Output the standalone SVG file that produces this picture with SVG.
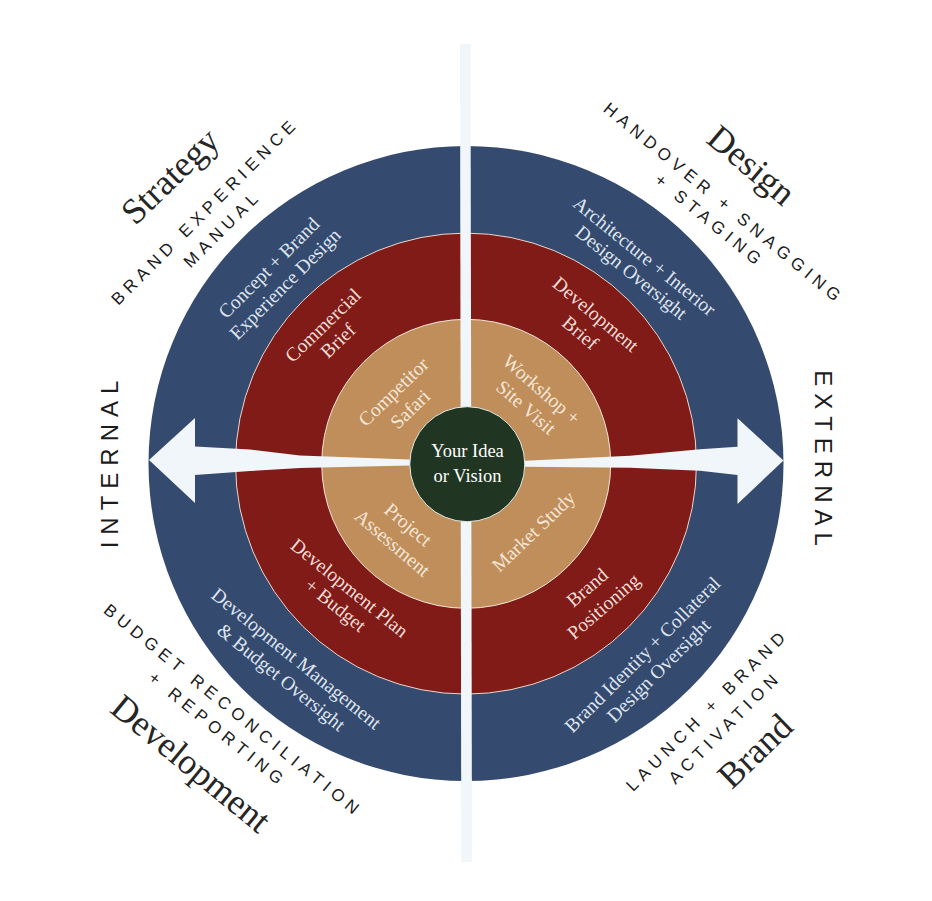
<svg xmlns="http://www.w3.org/2000/svg" width="932" height="901" viewBox="0 0 932 901">
<style>
.bg{fill:#ffffff}
.blue{fill:#354a6f}
.red{fill:#801b18;stroke:#ead8cf;stroke-width:1}
.tan{fill:#c08e5b;stroke:#f3e6da;stroke-width:1}
.core{fill:#213622;stroke:#e6ece6;stroke-width:1}
.conn{fill:#f1f6fb}
text{dominant-baseline:central;text-anchor:middle}
.serif{font-family:"Liberation Serif","DejaVu Serif",serif}
.sans{font-family:"Liberation Sans",Arial,sans-serif}
.big{font-size:36px;fill:#262626}
.caps{font-size:17px;letter-spacing:5.2px;fill:#1c1c1c}
.side{font-size:24px;letter-spacing:7px;fill:#1c1c1c}
.ring{font-size:19.5px}
.onblue{fill:#dfe5ef}
.onred{fill:#f2ddd6}
.ontan{fill:#f5e7d7}
.center{font-size:18.5px;fill:#ffffff}
</style>
<rect class="bg" x="0" y="0" width="932" height="901"/>

<g id="ring-outer"><circle class="blue" cx="466" cy="463.5" r="317.5"/></g>
<g id="ring-middle"><circle class="red" cx="466" cy="463.6" r="230.5"/></g>
<g id="ring-inner"><circle class="tan" cx="466.2" cy="463.8" r="144.5"/></g>

<g id="connectors">
  <polygon class="conn" points="460,44 470.5,44 472,862 461.3,862"/>
  <polygon class="conn" points="149,460 195,418 195,446.5 250,449.5 300,455.5 409,459.5 466,461.5 466,463.5 409,465.5 300,468 250,471 195,475 195,503"/>
  <polygon class="conn" points="783.5,460.5 737.5,418.3 737.5,446.7 700,449.3 630,455.7 525,460.7 466,461.5 466,463.5 525,466.7 630,467.7 700,470.7 737.5,475 737.5,504"/>
</g>

<g id="core">
  <circle class="core" cx="467.3" cy="464.2" r="57.5"/>
  <text class="serif center" x="467.5" y="451">Your Idea</text>
  <text class="serif center" x="467.5" y="476">or Vision</text>
</g>

<g id="strategy">
  <text class="serif big" transform="translate(170,176) rotate(-44)">Strategy</text>
  <g transform="translate(214,220) rotate(-45)">
    <text class="sans caps" y="-12.4">BRAND EXPERIENCE</text>
    <text class="sans caps" y="12.4">MANUAL</text>
  </g>
  <g transform="translate(277,276) rotate(-45)">
    <text class="serif ring onblue" y="-11.5">Concept + Brand</text>
    <text class="serif ring onblue" y="11.5">Experience Design</text>
  </g>
  <g transform="translate(330.5,333) rotate(-44)">
    <text class="serif ring onred" y="-10.8">Commercial</text>
    <text class="serif ring onred" y="10.8">Brief</text>
  </g>
  <g transform="translate(401.8,400.5) rotate(-44)">
    <text class="serif ring ontan" y="-12">Competitor</text>
    <text class="serif ring ontan" y="12">Safari</text>
  </g>
</g>

<g id="design">
  <text class="serif big" transform="translate(751.5,165) rotate(40)">Design</text>
  <g transform="translate(716.8,212.3) rotate(39.5)">
    <text class="sans caps" y="-11.2">HANDOVER + SNAGGING</text>
    <text class="sans caps" y="11.2">+ STAGING</text>
  </g>
  <g transform="translate(638,264.3) rotate(39)">
    <text class="serif ring onblue" y="-10.5">Architecture + Interior</text>
    <text class="serif ring onblue" y="10.5">Design Oversight</text>
  </g>
  <g transform="translate(588,323.5) rotate(40)">
    <text class="serif ring onred" y="-12">Development</text>
    <text class="serif ring onred" y="12">Brief</text>
  </g>
  <g transform="translate(533.8,398.5) rotate(41)">
    <text class="serif ring ontan" y="-11.9">Workshop +</text>
    <text class="serif ring ontan" y="11.9">Site Visit</text>
  </g>
</g>

<g id="development">
  <text class="serif big" transform="translate(191,763.5) rotate(39.4)">Development</text>
  <g transform="translate(225.5,720.3) rotate(39)">
    <text class="sans caps" y="-12.3">BUDGET RECONCILIATION</text>
    <text class="sans caps" y="12.3">+ REPORTING</text>
  </g>
  <g transform="translate(288.8,668) rotate(39)">
    <text class="serif ring onblue" y="-12">Development Management</text>
    <text class="serif ring onblue" y="12">&amp; Budget Oversight</text>
  </g>
  <g transform="translate(342.5,596.5) rotate(39)">
    <text class="serif ring onred" y="-11.1">Development Plan</text>
    <text class="serif ring onred" y="11.1">+ Budget</text>
  </g>
  <g transform="translate(400.3,533.8) rotate(40.6)">
    <text class="serif ring ontan" y="-12">Project</text>
    <text class="serif ring ontan" y="12">Assessment</text>
  </g>
</g>

<g id="brand">
  <text class="serif big" transform="translate(755,751) rotate(-44)">Brand</text>
  <g transform="translate(716.3,718.8) rotate(-45)">
    <text class="sans caps" y="-12.4">LAUNCH + BRAND</text>
    <text class="sans caps" y="12.4">ACTIVATION</text>
  </g>
  <g transform="translate(650.5,662.5) rotate(-45)">
    <text class="serif ring onblue" y="-11.3">Brand Identity + Collateral</text>
    <text class="serif ring onblue" y="11.3">Design Oversight</text>
  </g>
  <g transform="translate(595.3,597) rotate(-41)">
    <text class="serif ring onred" y="-12.5">Brand</text>
    <text class="serif ring onred" y="12.5">Positioning</text>
  </g>
  <text class="serif ring ontan" transform="translate(533.5,531.5) rotate(-43.7)">Market Study</text>
</g>

<g id="internal">
  <text class="sans side" transform="translate(109,461) rotate(-90)">INTERNAL</text>
</g>
<g id="external">
  <text class="sans side" transform="translate(823,461.5) rotate(90)">EXTERNAL</text>
</g>
</svg>
